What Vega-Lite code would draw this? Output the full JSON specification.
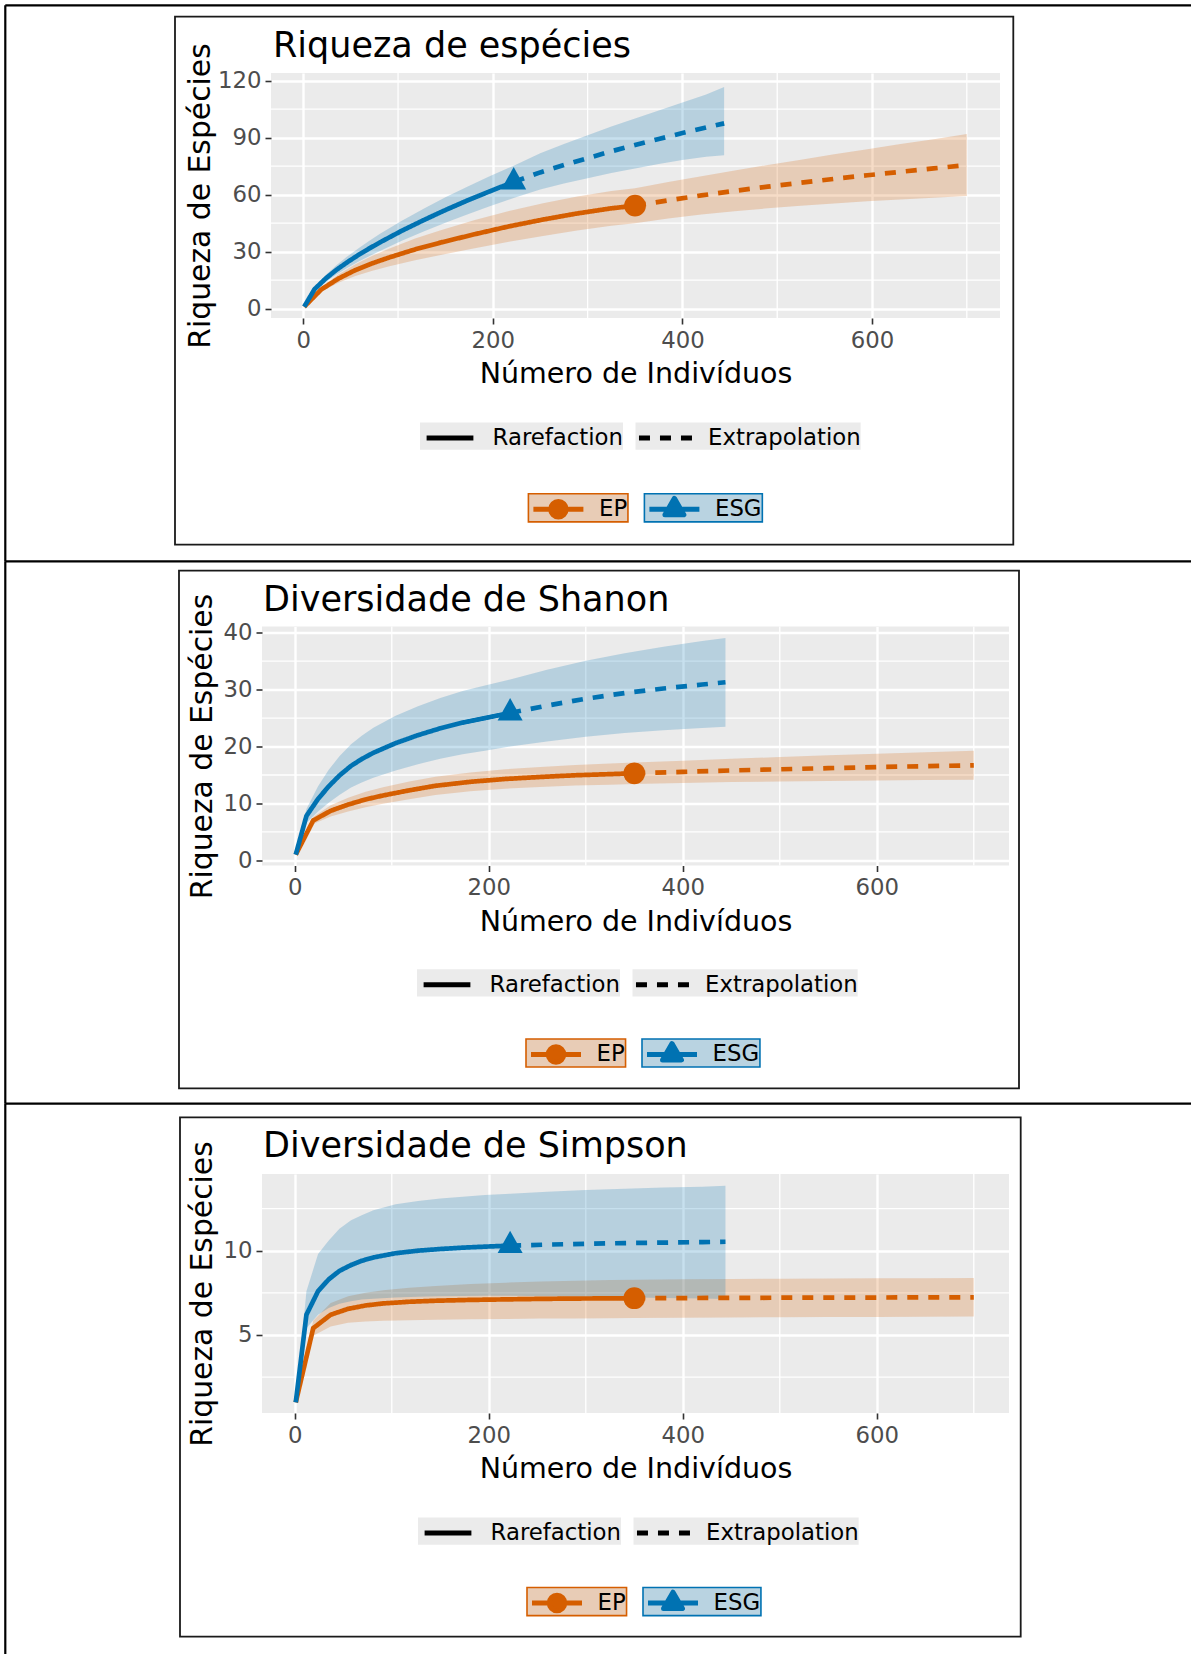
{
"$schema": "https://vega.github.io/schema/vega-lite/v6.json",
"background": "white",
"padding": {"left": 4, "top": 4, "right": 0, "bottom": 0},
"datasets": {
"mx": [{"x": 100}, {"x": 300}, {"x": 500}, {"x": 700}],
"my": [{"p":1,"y":15},{"p":1,"y":45},{"p":1,"y":75},{"p":1,"y":105},{"p":2,"y":5},{"p":2,"y":15},{"p":2,"y":25},{"p":2,"y":35},{"p":3,"y":2.5},{"p":3,"y":7.5},{"p":3,"y":12.5}],
"o": [{"p":1,"g":"EP","x":350,"y":54.2},{"p":1,"g":"ESG","x":222,"y":66.7},{"p":2,"g":"EP","x":350,"y":15.3},{"p":2,"g":"ESG","x":222,"y":25.9},{"p":3,"g":"EP","x":350,"y":7.18},{"p":3,"g":"ESG","x":222,"y":10.3}],
"f": [
{"p":1,"k":"l","x":-314.28,"x2":936.48,"y":159.62,"y2":159.62},
{"p":1,"k":"l","x":-314.28,"x2":-314.28,"y":159.62,"y2":-132.91},
{"p":1,"k":"l","x":-314.28,"x2":936.48,"y":-132.91,"y2":-132.91},
{"p":1,"k":"b","x":-135.27,"x2":749.03,"y":153.62,"y2":-124.17},
{"p":2,"k":"l","x":-298.44,"x2":-298.44,"y":52.56,"y2":-42.78},
{"p":2,"k":"l","x":-298.44,"x2":923.93,"y":-42.78,"y2":-42.78},
{"p":2,"k":"b","x":-119.37,"x2":746.61,"y":50.91,"y2":-40.07},
{"p":3,"k":"l","x":-298.44,"x2":-298.44,"y":18.721,"y2":-13.929},
{"p":3,"k":"b","x":-118.34,"x2":748.36,"y":17.914,"y2":-12.902}
],
"c": [
{"p":1,"g":"EP","m":"Rarefaction","x":1,"y":1,"lo":1,"hi":1},
{"p":1,"g":"EP","m":"Rarefaction","x":19,"y":10.1,"lo":8.9,"hi":11.3},
{"p":1,"g":"EP","m":"Rarefaction","x":37,"y":15.8,"lo":13.6,"hi":18.0},
{"p":1,"g":"EP","m":"Rarefaction","x":55,"y":20.3,"lo":17.2,"hi":23.4},
{"p":1,"g":"EP","m":"Rarefaction","x":73,"y":23.9,"lo":20.0,"hi":27.8},
{"p":1,"g":"EP","m":"Rarefaction","x":91,"y":27.0,"lo":22.3,"hi":31.7},
{"p":1,"g":"EP","m":"Rarefaction","x":118,"y":31.2,"lo":25.5,"hi":36.9},
{"p":1,"g":"EP","m":"Rarefaction","x":145,"y":34.8,"lo":28.3,"hi":41.3},
{"p":1,"g":"EP","m":"Rarefaction","x":181,"y":39.2,"lo":31.8,"hi":46.6},
{"p":1,"g":"EP","m":"Rarefaction","x":217,"y":43.3,"lo":35.2,"hi":51.4},
{"p":1,"g":"EP","m":"Rarefaction","x":253,"y":46.9,"lo":38.3,"hi":55.5},
{"p":1,"g":"EP","m":"Rarefaction","x":289,"y":50.1,"lo":41.2,"hi":59.0},
{"p":1,"g":"EP","m":"Rarefaction","x":325,"y":52.8,"lo":43.7,"hi":61.9},
{"p":1,"g":"EP","m":"Rarefaction","x":350,"y":54.2,"lo":45.0,"hi":63.4},
{"p":1,"g":"EP","m":"Extrapolation","x":350,"y":54.2,"lo":45.0,"hi":63.4},
{"p":1,"g":"EP","m":"Extrapolation","x":385,"y":57.0,"lo":47.4,"hi":66.6},
{"p":1,"g":"EP","m":"Extrapolation","x":420,"y":59.6,"lo":49.5,"hi":69.7},
{"p":1,"g":"EP","m":"Extrapolation","x":455,"y":62.0,"lo":51.3,"hi":72.7},
{"p":1,"g":"EP","m":"Extrapolation","x":490,"y":64.2,"lo":52.8,"hi":75.6},
{"p":1,"g":"EP","m":"Extrapolation","x":525,"y":66.3,"lo":54.2,"hi":78.4},
{"p":1,"g":"EP","m":"Extrapolation","x":560,"y":68.3,"lo":55.4,"hi":81.2},
{"p":1,"g":"EP","m":"Extrapolation","x":595,"y":70.2,"lo":56.5,"hi":83.9},
{"p":1,"g":"EP","m":"Extrapolation","x":630,"y":72.0,"lo":57.4,"hi":86.6},
{"p":1,"g":"EP","m":"Extrapolation","x":665,"y":73.8,"lo":58.4,"hi":89.2},
{"p":1,"g":"EP","m":"Extrapolation","x":700,"y":75.6,"lo":59.3,"hi":91.9},
{"p":1,"g":"ESG","m":"Rarefaction","x":1,"y":1,"lo":1,"hi":1},
{"p":1,"g":"ESG","m":"Rarefaction","x":12,"y":10.3,"lo":9.3,"hi":11.3},
{"p":1,"g":"ESG","m":"Rarefaction","x":24,"y":16.0,"lo":14.2,"hi":17.8},
{"p":1,"g":"ESG","m":"Rarefaction","x":35,"y":20.4,"lo":18.0,"hi":22.8},
{"p":1,"g":"ESG","m":"Rarefaction","x":46,"y":24.3,"lo":21.3,"hi":27.3},
{"p":1,"g":"ESG","m":"Rarefaction","x":58,"y":28.2,"lo":24.7,"hi":31.7},
{"p":1,"g":"ESG","m":"Rarefaction","x":69,"y":31.5,"lo":27.5,"hi":35.5},
{"p":1,"g":"ESG","m":"Rarefaction","x":81,"y":34.9,"lo":30.4,"hi":39.4},
{"p":1,"g":"ESG","m":"Rarefaction","x":104,"y":41.0,"lo":35.7,"hi":46.3},
{"p":1,"g":"ESG","m":"Rarefaction","x":127,"y":46.6,"lo":40.6,"hi":52.6},
{"p":1,"g":"ESG","m":"Rarefaction","x":150,"y":51.9,"lo":45.2,"hi":58.6},
{"p":1,"g":"ESG","m":"Rarefaction","x":173,"y":56.9,"lo":49.6,"hi":64.2},
{"p":1,"g":"ESG","m":"Rarefaction","x":196,"y":61.6,"lo":53.7,"hi":69.5},
{"p":1,"g":"ESG","m":"Rarefaction","x":222,"y":66.7,"lo":58.2,"hi":75.2},
{"p":1,"g":"ESG","m":"Extrapolation","x":222,"y":66.7,"lo":58.2,"hi":75.2},
{"p":1,"g":"ESG","m":"Extrapolation","x":250,"y":71.7,"lo":62.7,"hi":81.8},
{"p":1,"g":"ESG","m":"Extrapolation","x":275,"y":75.6,"lo":65.8,"hi":86.7},
{"p":1,"g":"ESG","m":"Extrapolation","x":300,"y":79.2,"lo":68.6,"hi":91.2},
{"p":1,"g":"ESG","m":"Extrapolation","x":325,"y":82.8,"lo":71.4,"hi":95.8},
{"p":1,"g":"ESG","m":"Extrapolation","x":350,"y":86.1,"lo":73.8,"hi":100.1},
{"p":1,"g":"ESG","m":"Extrapolation","x":375,"y":89.3,"lo":76.1,"hi":104.3},
{"p":1,"g":"ESG","m":"Extrapolation","x":400,"y":92.4,"lo":78.2,"hi":108.5},
{"p":1,"g":"ESG","m":"Extrapolation","x":425,"y":95.3,"lo":80.0,"hi":112.7},
{"p":1,"g":"ESG","m":"Extrapolation","x":444,"y":97.5,"lo":80.7,"hi":116.7},
{"p":2,"g":"EP","m":"Rarefaction","x":1,"y":1,"lo":1,"hi":1},
{"p":2,"g":"EP","m":"Rarefaction","x":19,"y":7.0,"lo":6.4,"hi":7.6},
{"p":2,"g":"EP","m":"Rarefaction","x":37,"y":8.7,"lo":7.7,"hi":9.7},
{"p":2,"g":"EP","m":"Rarefaction","x":55,"y":9.8,"lo":8.6,"hi":11.0},
{"p":2,"g":"EP","m":"Rarefaction","x":73,"y":10.7,"lo":9.35,"hi":12.05},
{"p":2,"g":"EP","m":"Rarefaction","x":91,"y":11.4,"lo":9.95,"hi":12.85},
{"p":2,"g":"EP","m":"Rarefaction","x":118,"y":12.3,"lo":10.75,"hi":13.85},
{"p":2,"g":"EP","m":"Rarefaction","x":145,"y":13.1,"lo":11.5,"hi":14.7},
{"p":2,"g":"EP","m":"Rarefaction","x":181,"y":13.8,"lo":12.15,"hi":15.45},
{"p":2,"g":"EP","m":"Rarefaction","x":217,"y":14.3,"lo":12.6,"hi":16.0},
{"p":2,"g":"EP","m":"Rarefaction","x":253,"y":14.65,"lo":12.9,"hi":16.4},
{"p":2,"g":"EP","m":"Rarefaction","x":289,"y":14.95,"lo":13.15,"hi":16.75},
{"p":2,"g":"EP","m":"Rarefaction","x":325,"y":15.15,"lo":13.3,"hi":17.0},
{"p":2,"g":"EP","m":"Rarefaction","x":350,"y":15.3,"lo":13.42,"hi":17.18},
{"p":2,"g":"EP","m":"Extrapolation","x":350,"y":15.3,"lo":13.42,"hi":17.18},
{"p":2,"g":"EP","m":"Extrapolation","x":400,"y":15.55,"lo":13.6,"hi":17.5},
{"p":2,"g":"EP","m":"Extrapolation","x":450,"y":15.8,"lo":13.75,"hi":17.85},
{"p":2,"g":"EP","m":"Extrapolation","x":500,"y":16.0,"lo":13.85,"hi":18.15},
{"p":2,"g":"EP","m":"Extrapolation","x":550,"y":16.2,"lo":13.95,"hi":18.45},
{"p":2,"g":"EP","m":"Extrapolation","x":600,"y":16.4,"lo":14.05,"hi":18.75},
{"p":2,"g":"EP","m":"Extrapolation","x":650,"y":16.55,"lo":14.1,"hi":19.0},
{"p":2,"g":"EP","m":"Extrapolation","x":700,"y":16.7,"lo":14.15,"hi":19.25},
{"p":2,"g":"ESG","m":"Rarefaction","x":1,"y":1,"lo":1,"hi":1},
{"p":2,"g":"ESG","m":"Rarefaction","x":12,"y":7.8,"lo":6.6,"hi":9.0},
{"p":2,"g":"ESG","m":"Rarefaction","x":24,"y":10.8,"lo":8.6,"hi":13.0},
{"p":2,"g":"ESG","m":"Rarefaction","x":35,"y":13.0,"lo":10.1,"hi":15.9},
{"p":2,"g":"ESG","m":"Rarefaction","x":46,"y":14.9,"lo":11.5,"hi":18.3},
{"p":2,"g":"ESG","m":"Rarefaction","x":58,"y":16.6,"lo":12.8,"hi":20.4},
{"p":2,"g":"ESG","m":"Rarefaction","x":69,"y":17.8,"lo":13.7,"hi":21.9},
{"p":2,"g":"ESG","m":"Rarefaction","x":81,"y":18.9,"lo":14.5,"hi":23.3},
{"p":2,"g":"ESG","m":"Rarefaction","x":104,"y":20.6,"lo":15.8,"hi":25.4},
{"p":2,"g":"ESG","m":"Rarefaction","x":127,"y":22.0,"lo":16.9,"hi":27.1},
{"p":2,"g":"ESG","m":"Rarefaction","x":150,"y":23.2,"lo":17.85,"hi":28.55},
{"p":2,"g":"ESG","m":"Rarefaction","x":173,"y":24.2,"lo":18.65,"hi":29.75},
{"p":2,"g":"ESG","m":"Rarefaction","x":196,"y":25.0,"lo":19.25,"hi":30.75},
{"p":2,"g":"ESG","m":"Rarefaction","x":222,"y":25.9,"lo":20.0,"hi":31.8},
{"p":2,"g":"ESG","m":"Extrapolation","x":222,"y":25.9,"lo":20.0,"hi":31.8},
{"p":2,"g":"ESG","m":"Extrapolation","x":260,"y":27.2,"lo":20.9,"hi":33.5},
{"p":2,"g":"ESG","m":"Extrapolation","x":300,"y":28.4,"lo":21.7,"hi":35.1},
{"p":2,"g":"ESG","m":"Extrapolation","x":340,"y":29.4,"lo":22.4,"hi":36.4},
{"p":2,"g":"ESG","m":"Extrapolation","x":380,"y":30.2,"lo":22.85,"hi":37.55},
{"p":2,"g":"ESG","m":"Extrapolation","x":420,"y":30.9,"lo":23.25,"hi":38.55},
{"p":2,"g":"ESG","m":"Extrapolation","x":444,"y":31.3,"lo":23.5,"hi":39.1},
{"p":3,"g":"EP","m":"Rarefaction","x":1,"y":1,"lo":1,"hi":1},
{"p":3,"g":"EP","m":"Rarefaction","x":19,"y":5.4,"lo":4.95,"hi":5.85},
{"p":3,"g":"EP","m":"Rarefaction","x":37,"y":6.2,"lo":5.5,"hi":6.9},
{"p":3,"g":"EP","m":"Rarefaction","x":55,"y":6.55,"lo":5.72,"hi":7.3},
{"p":3,"g":"EP","m":"Rarefaction","x":73,"y":6.75,"lo":5.8,"hi":7.5},
{"p":3,"g":"EP","m":"Rarefaction","x":91,"y":6.87,"lo":5.85,"hi":7.65},
{"p":3,"g":"EP","m":"Rarefaction","x":118,"y":6.97,"lo":5.88,"hi":7.8},
{"p":3,"g":"EP","m":"Rarefaction","x":145,"y":7.03,"lo":5.9,"hi":7.9},
{"p":3,"g":"EP","m":"Rarefaction","x":181,"y":7.08,"lo":5.93,"hi":8.02},
{"p":3,"g":"EP","m":"Rarefaction","x":217,"y":7.11,"lo":5.95,"hi":8.1},
{"p":3,"g":"EP","m":"Rarefaction","x":253,"y":7.14,"lo":5.97,"hi":8.17},
{"p":3,"g":"EP","m":"Rarefaction","x":289,"y":7.16,"lo":5.98,"hi":8.22},
{"p":3,"g":"EP","m":"Rarefaction","x":325,"y":7.17,"lo":5.99,"hi":8.26},
{"p":3,"g":"EP","m":"Rarefaction","x":350,"y":7.18,"lo":6.0,"hi":8.28},
{"p":3,"g":"EP","m":"Extrapolation","x":350,"y":7.18,"lo":6.0,"hi":8.28},
{"p":3,"g":"EP","m":"Extrapolation","x":400,"y":7.19,"lo":6.02,"hi":8.3},
{"p":3,"g":"EP","m":"Extrapolation","x":450,"y":7.2,"lo":6.04,"hi":8.32},
{"p":3,"g":"EP","m":"Extrapolation","x":500,"y":7.21,"lo":6.05,"hi":8.34},
{"p":3,"g":"EP","m":"Extrapolation","x":550,"y":7.22,"lo":6.06,"hi":8.35},
{"p":3,"g":"EP","m":"Extrapolation","x":600,"y":7.22,"lo":6.07,"hi":8.36},
{"p":3,"g":"EP","m":"Extrapolation","x":650,"y":7.23,"lo":6.08,"hi":8.37},
{"p":3,"g":"EP","m":"Extrapolation","x":700,"y":7.23,"lo":6.1,"hi":8.38},
{"p":3,"g":"ESG","m":"Rarefaction","x":1,"y":1,"lo":1,"hi":1},
{"p":3,"g":"ESG","m":"Rarefaction","x":12,"y":6.2,"lo":5.4,"hi":7.6},
{"p":3,"g":"ESG","m":"Rarefaction","x":24,"y":7.6,"lo":6.2,"hi":9.8},
{"p":3,"g":"ESG","m":"Rarefaction","x":35,"y":8.3,"lo":6.6,"hi":10.6},
{"p":3,"g":"ESG","m":"Rarefaction","x":46,"y":8.8,"lo":6.85,"hi":11.3},
{"p":3,"g":"ESG","m":"Rarefaction","x":58,"y":9.15,"lo":7.0,"hi":11.8},
{"p":3,"g":"ESG","m":"Rarefaction","x":69,"y":9.4,"lo":7.1,"hi":12.1},
{"p":3,"g":"ESG","m":"Rarefaction","x":81,"y":9.6,"lo":7.15,"hi":12.4},
{"p":3,"g":"ESG","m":"Rarefaction","x":104,"y":9.85,"lo":7.22,"hi":12.75},
{"p":3,"g":"ESG","m":"Rarefaction","x":127,"y":10.0,"lo":7.27,"hi":12.95},
{"p":3,"g":"ESG","m":"Rarefaction","x":150,"y":10.1,"lo":7.3,"hi":13.1},
{"p":3,"g":"ESG","m":"Rarefaction","x":173,"y":10.18,"lo":7.31,"hi":13.2},
{"p":3,"g":"ESG","m":"Rarefaction","x":196,"y":10.24,"lo":7.32,"hi":13.3},
{"p":3,"g":"ESG","m":"Rarefaction","x":222,"y":10.3,"lo":7.33,"hi":13.38},
{"p":3,"g":"ESG","m":"Extrapolation","x":222,"y":10.3,"lo":7.33,"hi":13.38},
{"p":3,"g":"ESG","m":"Extrapolation","x":260,"y":10.36,"lo":7.3,"hi":13.5},
{"p":3,"g":"ESG","m":"Extrapolation","x":300,"y":10.41,"lo":7.27,"hi":13.6},
{"p":3,"g":"ESG","m":"Extrapolation","x":340,"y":10.45,"lo":7.24,"hi":13.68},
{"p":3,"g":"ESG","m":"Extrapolation","x":380,"y":10.48,"lo":7.2,"hi":13.75},
{"p":3,"g":"ESG","m":"Extrapolation","x":420,"y":10.51,"lo":7.16,"hi":13.8},
{"p":3,"g":"ESG","m":"Extrapolation","x":444,"y":10.53,"lo":7.13,"hi":13.85}
]
},
"spacing": 308.5,
"bounds": "flush",
"center": true,
"resolve": {"scale": {"color": "independent", "strokeDash": "independent"}, "legend": {"color": "independent", "strokeDash": "independent"}},
"vconcat": [
{
"width": 729, "height": 245,
"title": {"text": "Riqueza de espécies", "offset": -59.4, "dx": 2},
"layer": [
{"data": {"name": "mx"}, "mark": {"type": "rule", "color": "white", "strokeWidth": 1.3},
 "encoding": {"x": {"field": "x", "type": "quantitative", "scale": {"domain": [-34, 735], "nice": false, "zero": false}, "title": "Número de Indivíduos"}}},
{"data": {"name": "my"}, "transform": [{"filter": "datum.p == 1"}], "mark": {"type": "rule", "color": "white", "strokeWidth": 1.3},
 "encoding": {"y": {"field": "y", "type": "quantitative", "scale": {"domain": [-4.9, 124], "nice": false, "zero": false}, "title": "Riqueza de Espécies"}}},
{"data": {"name": "c"}, "transform": [{"filter": "datum.p == 1"}], "mark": {"type": "area", "fillOpacity": 0.22},
 "encoding": {
  "x": {"field": "x", "type": "quantitative", "scale": {"domain": [-34, 735], "nice": false, "zero": false}, "title": "Número de Indivíduos", "axis": {"values": [0, 200, 400, 600]}},
  "y": {"field": "lo", "type": "quantitative", "scale": {"domain": [-4.9, 124], "nice": false, "zero": false}, "title": "Riqueza de Espécies", "axis": {"values": [0, 30, 60, 90, 120], "titlePadding": 1.5}},
  "y2": {"field": "hi"},
  "color": {"field": "g", "type": "nominal", "scale": {"domain": ["EP", "ESG"], "range": ["#D55E00", "#0072B2"]},
   "legend": {"title": null, "legendX": 257.4, "legendY": 420.3, "labelOffset": 25.1, "columnPadding": 16,
    "encoding": {
     "symbols": {"shape": {"value": {"expr": "datum.value == 'EP' ? 'M-1.923,0H1.923M0.596,0A0.596,0.596,0,1,1,-0.596,0A0.596,0.596,0,1,1,0.596,0Z' : 'M-1.923,0H1.923M0,-0.839L0.728,0.421L-0.728,0.421Z'"}},
      "fill": {"value": {"expr": "datum.value == 'EP' ? '#D55E00' : '#0072B2'"}},
      "stroke": {"value": {"expr": "datum.value == 'EP' ? '#D55E00' : '#0072B2'"}},
      "strokeWidth": {"value": 5}, "size": {"value": 676}, "opacity": {"value": 1}, "fillOpacity": {"value": 1}, "strokeOpacity": {"value": 1}, "strokeJoin": {"value": "round"}},
     "entries": {"width": {"value": 60}, "height": {"value": 31},
      "fill": {"value": {"expr": "datum.index == 0 ? '#E8CCB6' : '#B9D3E1'"}},
      "stroke": {"value": {"expr": "datum.index == 0 ? '#D55E00' : '#0072B2'"}},
      "strokeWidth": {"value": 1.6}}}}}
 }},
{"data": {"name": "c"}, "transform": [{"filter": "datum.p == 1"}], "mark": {"type": "line", "strokeWidth": 4.7},
 "encoding": {
  "x": {"field": "x", "type": "quantitative", "scale": {"domain": [-34, 735], "nice": false, "zero": false}, "title": "Número de Indivíduos"},
  "y": {"field": "y", "type": "quantitative", "scale": {"domain": [-4.9, 124], "nice": false, "zero": false}, "title": "Riqueza de Espécies"},
  "color": {"field": "g", "type": "nominal", "scale": {"domain": ["EP", "ESG"], "range": ["#D55E00", "#0072B2"]},
   "legend": {"title": null, "legendX": 257.4, "legendY": 420.3, "labelOffset": 25.1, "columnPadding": 16,
    "encoding": {
     "symbols": {"shape": {"value": {"expr": "datum.value == 'EP' ? 'M-1.923,0H1.923M0.596,0A0.596,0.596,0,1,1,-0.596,0A0.596,0.596,0,1,1,0.596,0Z' : 'M-1.923,0H1.923M0,-0.839L0.728,0.421L-0.728,0.421Z'"}},
      "fill": {"value": {"expr": "datum.value == 'EP' ? '#D55E00' : '#0072B2'"}},
      "stroke": {"value": {"expr": "datum.value == 'EP' ? '#D55E00' : '#0072B2'"}},
      "strokeWidth": {"value": 5}, "size": {"value": 676}, "opacity": {"value": 1}, "fillOpacity": {"value": 1}, "strokeOpacity": {"value": 1}, "strokeJoin": {"value": "round"}},
     "entries": {"width": {"value": 60}, "height": {"value": 31},
      "fill": {"value": {"expr": "datum.index == 0 ? '#E8CCB6' : '#B9D3E1'"}},
      "stroke": {"value": {"expr": "datum.index == 0 ? '#D55E00' : '#0072B2'"}},
      "strokeWidth": {"value": 1.6}}}}},
  "strokeDash": {"field": "m", "type": "nominal", "scale": {"domain": ["Rarefaction", "Extrapolation"], "range": [[1, 0], [11, 10]]},
   "legend": {"title": null, "legendX": 149, "legendY": 349.2, "labelOffset": 27.1, "columnPadding": 4.5,
    "encoding": {
     "symbols": {"shape": {"value": {"expr": "datum.value == 'Rarefaction' ? 'M-1.8,0H1.8' : 'M-2.04,0H2.04'"}},
      "stroke": {"value": "black"}, "fill": {"value": "transparent"}, "strokeWidth": {"value": 5}, "size": {"value": 676}, "opacity": {"value": 1}, "strokeOpacity": {"value": 1}},
     "entries": {"width": {"value": 60}, "height": {"value": 31}, "fill": {"value": "#EBEBEB"}}}}}
 }},
{"data": {"name": "o"}, "transform": [{"filter": "datum.p == 1 && datum.g == 'EP'"}], "mark": {"type": "point", "filled": true, "opacity": 1, "size": 471, "shape": "circle", "color": "#D55E00"},
 "encoding": {
  "x": {"field": "x", "type": "quantitative", "scale": {"domain": [-34, 735], "nice": false, "zero": false}, "title": "Número de Indivíduos"},
  "y": {"field": "y", "type": "quantitative", "scale": {"domain": [-4.9, 124], "nice": false, "zero": false}, "title": "Riqueza de Espécies"}
 }},
{"data": {"name": "o"}, "transform": [{"filter": "datum.p == 1 && datum.g == 'ESG'"}], "mark": {"type": "point", "filled": true, "opacity": 1, "size": 471, "shape": "M0,-1.38L1.152,0.69L-1.152,0.69Z", "color": "#0072B2"},
 "encoding": {
  "x": {"field": "x", "type": "quantitative", "scale": {"domain": [-34, 735], "nice": false, "zero": false}, "title": "Número de Indivíduos"},
  "y": {"field": "y", "type": "quantitative", "scale": {"domain": [-4.9, 124], "nice": false, "zero": false}, "title": "Riqueza de Espécies"}
 }},
{"data": {"name": "f"}, "transform": [{"filter": "datum.p == 1 && datum.k == 'l'"}], "mark": {"type": "rule", "color": "black", "strokeWidth": 2.2},
 "encoding": {
  "x": {"field": "x", "type": "quantitative", "scale": {"domain": [-34, 735], "nice": false, "zero": false}, "title": "Número de Indivíduos"},
  "x2": {"field": "x2"},
  "y": {"field": "y", "type": "quantitative", "scale": {"domain": [-4.9, 124], "nice": false, "zero": false}, "title": "Riqueza de Espécies"},
  "y2": {"field": "y2"}}},
{"data": {"name": "f"}, "transform": [{"filter": "datum.p == 1 && datum.k == 'b'"}], "mark": {"type": "rect", "filled": false, "color": "#1a1a1a", "strokeWidth": 1.8},
 "encoding": {
  "x": {"field": "x", "type": "quantitative", "scale": {"domain": [-34, 735], "nice": false, "zero": false}, "title": "Número de Indivíduos"},
  "x2": {"field": "x2"},
  "y": {"field": "y", "type": "quantitative", "scale": {"domain": [-4.9, 124], "nice": false, "zero": false}, "title": "Riqueza de Espécies"},
  "y2": {"field": "y2"}}}
]
},
{
"width": 747, "height": 239,
"title": {"text": "Diversidade de Shanon", "offset": -58.1, "dx": 1},
"layer": [
{"data": {"name": "mx"}, "mark": {"type": "rule", "color": "white", "strokeWidth": 1.3},
 "encoding": {"x": {"field": "x", "type": "quantitative", "scale": {"domain": [-33.8, 736.3], "nice": false, "zero": false}, "title": "Número de Indivíduos"}}},
{"data": {"name": "my"}, "transform": [{"filter": "datum.p == 2"}], "mark": {"type": "rule", "color": "white", "strokeWidth": 1.3},
 "encoding": {"y": {"field": "y", "type": "quantitative", "scale": {"domain": [-0.91, 41.1], "nice": false, "zero": false}, "title": "Riqueza de Espécies"}}},
{"data": {"name": "c"}, "transform": [{"filter": "datum.p == 2"}], "mark": {"type": "area", "fillOpacity": 0.22},
 "encoding": {
  "x": {"field": "x", "type": "quantitative", "scale": {"domain": [-33.8, 736.3], "nice": false, "zero": false}, "title": "Número de Indivíduos", "axis": {"values": [0, 200, 400, 600]}},
  "y": {"field": "lo", "type": "quantitative", "scale": {"domain": [-0.91, 41.1], "nice": false, "zero": false}, "title": "Riqueza de Espécies", "axis": {"values": [0, 10, 20, 30, 40]}},
  "y2": {"field": "hi"},
  "color": {"field": "g", "type": "nominal", "scale": {"domain": ["EP", "ESG"], "range": ["#D55E00", "#0072B2"]},
   "legend": {"title": null, "legendX": 264, "legendY": 412, "labelOffset": 25.1, "columnPadding": 16,
    "encoding": {
     "symbols": {"shape": {"value": {"expr": "datum.value == 'EP' ? 'M-1.923,0H1.923M0.596,0A0.596,0.596,0,1,1,-0.596,0A0.596,0.596,0,1,1,0.596,0Z' : 'M-1.923,0H1.923M0,-0.839L0.728,0.421L-0.728,0.421Z'"}},
      "fill": {"value": {"expr": "datum.value == 'EP' ? '#D55E00' : '#0072B2'"}},
      "stroke": {"value": {"expr": "datum.value == 'EP' ? '#D55E00' : '#0072B2'"}},
      "strokeWidth": {"value": 5}, "size": {"value": 676}, "opacity": {"value": 1}, "fillOpacity": {"value": 1}, "strokeOpacity": {"value": 1}, "strokeJoin": {"value": "round"}},
     "entries": {"width": {"value": 60}, "height": {"value": 31},
      "fill": {"value": {"expr": "datum.index == 0 ? '#E8CCB6' : '#B9D3E1'"}},
      "stroke": {"value": {"expr": "datum.index == 0 ? '#D55E00' : '#0072B2'"}},
      "strokeWidth": {"value": 1.6}}}}}
 }},
{"data": {"name": "c"}, "transform": [{"filter": "datum.p == 2"}], "mark": {"type": "line", "strokeWidth": 4.7},
 "encoding": {
  "x": {"field": "x", "type": "quantitative", "scale": {"domain": [-33.8, 736.3], "nice": false, "zero": false}, "title": "Número de Indivíduos"},
  "y": {"field": "y", "type": "quantitative", "scale": {"domain": [-0.91, 41.1], "nice": false, "zero": false}, "title": "Riqueza de Espécies"},
  "color": {"field": "g", "type": "nominal", "scale": {"domain": ["EP", "ESG"], "range": ["#D55E00", "#0072B2"]},
   "legend": {"title": null, "legendX": 264, "legendY": 412, "labelOffset": 25.1, "columnPadding": 16,
    "encoding": {
     "symbols": {"shape": {"value": {"expr": "datum.value == 'EP' ? 'M-1.923,0H1.923M0.596,0A0.596,0.596,0,1,1,-0.596,0A0.596,0.596,0,1,1,0.596,0Z' : 'M-1.923,0H1.923M0,-0.839L0.728,0.421L-0.728,0.421Z'"}},
      "fill": {"value": {"expr": "datum.value == 'EP' ? '#D55E00' : '#0072B2'"}},
      "stroke": {"value": {"expr": "datum.value == 'EP' ? '#D55E00' : '#0072B2'"}},
      "strokeWidth": {"value": 5}, "size": {"value": 676}, "opacity": {"value": 1}, "fillOpacity": {"value": 1}, "strokeOpacity": {"value": 1}, "strokeJoin": {"value": "round"}},
     "entries": {"width": {"value": 60}, "height": {"value": 31},
      "fill": {"value": {"expr": "datum.index == 0 ? '#E8CCB6' : '#B9D3E1'"}},
      "stroke": {"value": {"expr": "datum.index == 0 ? '#D55E00' : '#0072B2'"}},
      "strokeWidth": {"value": 1.6}}}}},
  "strokeDash": {"field": "m", "type": "nominal", "scale": {"domain": ["Rarefaction", "Extrapolation"], "range": [[1, 0], [11, 10]]},
   "legend": {"title": null, "legendX": 155, "legendY": 342.4, "labelOffset": 27.1, "columnPadding": 4.5,
    "encoding": {
     "symbols": {"shape": {"value": {"expr": "datum.value == 'Rarefaction' ? 'M-1.8,0H1.8' : 'M-2.04,0H2.04'"}},
      "stroke": {"value": "black"}, "fill": {"value": "transparent"}, "strokeWidth": {"value": 5}, "size": {"value": 676}, "opacity": {"value": 1}, "strokeOpacity": {"value": 1}},
     "entries": {"width": {"value": 60}, "height": {"value": 31}, "fill": {"value": "#EBEBEB"}}}}}
 }},
{"data": {"name": "o"}, "transform": [{"filter": "datum.p == 2 && datum.g == 'EP'"}], "mark": {"type": "point", "filled": true, "opacity": 1, "size": 471, "shape": "circle", "color": "#D55E00"},
 "encoding": {
  "x": {"field": "x", "type": "quantitative", "scale": {"domain": [-33.8, 736.3], "nice": false, "zero": false}, "title": "Número de Indivíduos"},
  "y": {"field": "y", "type": "quantitative", "scale": {"domain": [-0.91, 41.1], "nice": false, "zero": false}, "title": "Riqueza de Espécies"}
 }},
{"data": {"name": "o"}, "transform": [{"filter": "datum.p == 2 && datum.g == 'ESG'"}], "mark": {"type": "point", "filled": true, "opacity": 1, "size": 471, "shape": "M0,-1.38L1.152,0.69L-1.152,0.69Z", "color": "#0072B2"},
 "encoding": {
  "x": {"field": "x", "type": "quantitative", "scale": {"domain": [-33.8, 736.3], "nice": false, "zero": false}, "title": "Número de Indivíduos"},
  "y": {"field": "y", "type": "quantitative", "scale": {"domain": [-0.91, 41.1], "nice": false, "zero": false}, "title": "Riqueza de Espécies"}
 }},
{"data": {"name": "f"}, "transform": [{"filter": "datum.p == 2 && datum.k == 'l'"}], "mark": {"type": "rule", "color": "black", "strokeWidth": 2.2},
 "encoding": {
  "x": {"field": "x", "type": "quantitative", "scale": {"domain": [-33.8, 736.3], "nice": false, "zero": false}, "title": "Número de Indivíduos"},
  "x2": {"field": "x2"},
  "y": {"field": "y", "type": "quantitative", "scale": {"domain": [-0.91, 41.1], "nice": false, "zero": false}, "title": "Riqueza de Espécies"},
  "y2": {"field": "y2"}}},
{"data": {"name": "f"}, "transform": [{"filter": "datum.p == 2 && datum.k == 'b'"}], "mark": {"type": "rect", "filled": false, "color": "#1a1a1a", "strokeWidth": 1.8},
 "encoding": {
  "x": {"field": "x", "type": "quantitative", "scale": {"domain": [-33.8, 736.3], "nice": false, "zero": false}, "title": "Número de Indivíduos"},
  "x2": {"field": "x2"},
  "y": {"field": "y", "type": "quantitative", "scale": {"domain": [-0.91, 41.1], "nice": false, "zero": false}, "title": "Riqueza de Espécies"},
  "y2": {"field": "y2"}}}
]
},
{
"width": 747, "height": 239,
"title": {"text": "Diversidade de Simpson", "offset": -61.7, "dx": 1},
"layer": [
{"data": {"name": "mx"}, "mark": {"type": "rule", "color": "white", "strokeWidth": 1.3},
 "encoding": {"x": {"field": "x", "type": "quantitative", "scale": {"domain": [-33.8, 736.3], "nice": false, "zero": false}, "title": "Número de Indivíduos"}}},
{"data": {"name": "my"}, "transform": [{"filter": "datum.p == 3"}], "mark": {"type": "rule", "color": "white", "strokeWidth": 1.3},
 "encoding": {"y": {"field": "y", "type": "quantitative", "scale": {"domain": [0.37, 14.55], "nice": false, "zero": false}, "title": "Riqueza de Espécies"}}},
{"data": {"name": "c"}, "transform": [{"filter": "datum.p == 3"}], "mark": {"type": "area", "fillOpacity": 0.22},
 "encoding": {
  "x": {"field": "x", "type": "quantitative", "scale": {"domain": [-33.8, 736.3], "nice": false, "zero": false}, "title": "Número de Indivíduos", "axis": {"values": [0, 200, 400, 600]}},
  "y": {"field": "lo", "type": "quantitative", "scale": {"domain": [0.37, 14.55], "nice": false, "zero": false}, "title": "Riqueza de Espécies", "axis": {"values": [5, 10]}},
  "y2": {"field": "hi"},
  "color": {"field": "g", "type": "nominal", "scale": {"domain": ["EP", "ESG"], "range": ["#D55E00", "#0072B2"]},
   "legend": {"title": null, "legendX": 265, "legendY": 413.1, "labelOffset": 25.1, "columnPadding": 16,
    "encoding": {
     "symbols": {"shape": {"value": {"expr": "datum.value == 'EP' ? 'M-1.923,0H1.923M0.596,0A0.596,0.596,0,1,1,-0.596,0A0.596,0.596,0,1,1,0.596,0Z' : 'M-1.923,0H1.923M0,-0.839L0.728,0.421L-0.728,0.421Z'"}},
      "fill": {"value": {"expr": "datum.value == 'EP' ? '#D55E00' : '#0072B2'"}},
      "stroke": {"value": {"expr": "datum.value == 'EP' ? '#D55E00' : '#0072B2'"}},
      "strokeWidth": {"value": 5}, "size": {"value": 676}, "opacity": {"value": 1}, "fillOpacity": {"value": 1}, "strokeOpacity": {"value": 1}, "strokeJoin": {"value": "round"}},
     "entries": {"width": {"value": 60}, "height": {"value": 31},
      "fill": {"value": {"expr": "datum.index == 0 ? '#E8CCB6' : '#B9D3E1'"}},
      "stroke": {"value": {"expr": "datum.index == 0 ? '#D55E00' : '#0072B2'"}},
      "strokeWidth": {"value": 1.6}}}}}
 }},
{"data": {"name": "c"}, "transform": [{"filter": "datum.p == 3"}], "mark": {"type": "line", "strokeWidth": 4.7},
 "encoding": {
  "x": {"field": "x", "type": "quantitative", "scale": {"domain": [-33.8, 736.3], "nice": false, "zero": false}, "title": "Número de Indivíduos"},
  "y": {"field": "y", "type": "quantitative", "scale": {"domain": [0.37, 14.55], "nice": false, "zero": false}, "title": "Riqueza de Espécies"},
  "color": {"field": "g", "type": "nominal", "scale": {"domain": ["EP", "ESG"], "range": ["#D55E00", "#0072B2"]},
   "legend": {"title": null, "legendX": 265, "legendY": 413.1, "labelOffset": 25.1, "columnPadding": 16,
    "encoding": {
     "symbols": {"shape": {"value": {"expr": "datum.value == 'EP' ? 'M-1.923,0H1.923M0.596,0A0.596,0.596,0,1,1,-0.596,0A0.596,0.596,0,1,1,0.596,0Z' : 'M-1.923,0H1.923M0,-0.839L0.728,0.421L-0.728,0.421Z'"}},
      "fill": {"value": {"expr": "datum.value == 'EP' ? '#D55E00' : '#0072B2'"}},
      "stroke": {"value": {"expr": "datum.value == 'EP' ? '#D55E00' : '#0072B2'"}},
      "strokeWidth": {"value": 5}, "size": {"value": 676}, "opacity": {"value": 1}, "fillOpacity": {"value": 1}, "strokeOpacity": {"value": 1}, "strokeJoin": {"value": "round"}},
     "entries": {"width": {"value": 60}, "height": {"value": 31},
      "fill": {"value": {"expr": "datum.index == 0 ? '#E8CCB6' : '#B9D3E1'"}},
      "stroke": {"value": {"expr": "datum.index == 0 ? '#D55E00' : '#0072B2'"}},
      "strokeWidth": {"value": 1.6}}}}},
  "strokeDash": {"field": "m", "type": "nominal", "scale": {"domain": ["Rarefaction", "Extrapolation"], "range": [[1, 0], [11, 10]]},
   "legend": {"title": null, "legendX": 156, "legendY": 343.2, "labelOffset": 27.1, "columnPadding": 4.5,
    "encoding": {
     "symbols": {"shape": {"value": {"expr": "datum.value == 'Rarefaction' ? 'M-1.8,0H1.8' : 'M-2.04,0H2.04'"}},
      "stroke": {"value": "black"}, "fill": {"value": "transparent"}, "strokeWidth": {"value": 5}, "size": {"value": 676}, "opacity": {"value": 1}, "strokeOpacity": {"value": 1}},
     "entries": {"width": {"value": 60}, "height": {"value": 31}, "fill": {"value": "#EBEBEB"}}}}}
 }},
{"data": {"name": "o"}, "transform": [{"filter": "datum.p == 3 && datum.g == 'EP'"}], "mark": {"type": "point", "filled": true, "opacity": 1, "size": 471, "shape": "circle", "color": "#D55E00"},
 "encoding": {
  "x": {"field": "x", "type": "quantitative", "scale": {"domain": [-33.8, 736.3], "nice": false, "zero": false}, "title": "Número de Indivíduos"},
  "y": {"field": "y", "type": "quantitative", "scale": {"domain": [0.37, 14.55], "nice": false, "zero": false}, "title": "Riqueza de Espécies"}
 }},
{"data": {"name": "o"}, "transform": [{"filter": "datum.p == 3 && datum.g == 'ESG'"}], "mark": {"type": "point", "filled": true, "opacity": 1, "size": 471, "shape": "M0,-1.38L1.152,0.69L-1.152,0.69Z", "color": "#0072B2"},
 "encoding": {
  "x": {"field": "x", "type": "quantitative", "scale": {"domain": [-33.8, 736.3], "nice": false, "zero": false}, "title": "Número de Indivíduos"},
  "y": {"field": "y", "type": "quantitative", "scale": {"domain": [0.37, 14.55], "nice": false, "zero": false}, "title": "Riqueza de Espécies"}
 }},
{"data": {"name": "f"}, "transform": [{"filter": "datum.p == 3 && datum.k == 'l'"}], "mark": {"type": "rule", "color": "black", "strokeWidth": 2.2},
 "encoding": {
  "x": {"field": "x", "type": "quantitative", "scale": {"domain": [-33.8, 736.3], "nice": false, "zero": false}, "title": "Número de Indivíduos"},
  "x2": {"field": "x2"},
  "y": {"field": "y", "type": "quantitative", "scale": {"domain": [0.37, 14.55], "nice": false, "zero": false}, "title": "Riqueza de Espécies"},
  "y2": {"field": "y2"}}},
{"data": {"name": "f"}, "transform": [{"filter": "datum.p == 3 && datum.k == 'b'"}], "mark": {"type": "rect", "filled": false, "color": "#1a1a1a", "strokeWidth": 1.8},
 "encoding": {
  "x": {"field": "x", "type": "quantitative", "scale": {"domain": [-33.8, 736.3], "nice": false, "zero": false}, "title": "Número de Indivíduos"},
  "x2": {"field": "x2"},
  "y": {"field": "y", "type": "quantitative", "scale": {"domain": [0.37, 14.55], "nice": false, "zero": false}, "title": "Riqueza de Espécies"},
  "y2": {"field": "y2"}}}
]
}
],
"config": {
 "font": "DejaVu Sans",
 "view": {"fill": "#EBEBEB", "stroke": null},
 "axis": {"domain": false, "tickColor": "#333333", "tickWidth": 1.6, "tickSize": 6, "labelColor": "#4D4D4D", "labelFontSize": 22.8, "labelFont": "DejaVu Sans", "labelPadding": 5, "titleFont": "DejaVu Sans", "titleFontSize": 28.5, "titleFontWeight": "normal", "titleColor": "black", "gridColor": "white", "gridWidth": 2.4, "gridOpacity": 1, "labelOverlap": false, "labelFlush": false, "labelBound": false},
 "axisX": {"titlePadding": 7.9},
 "axisY": {"titlePadding": 5, "titleFontSize": 29.8, "labelPadding": 4},
 "legend": {"orient": "none", "direction": "horizontal", "labelFont": "DejaVu Sans", "labelFontSize": 22.8, "labelColor": "black", "labelLimit": 400, "symbolSize": 676, "symbolStrokeWidth": 5, "symbolOffset": 14.5},
 "title": {"font": "DejaVu Sans", "fontSize": 35, "fontWeight": "normal", "color": "black", "anchor": "start", "frame": "group", "baseline": "alphabetic"}
}
}
